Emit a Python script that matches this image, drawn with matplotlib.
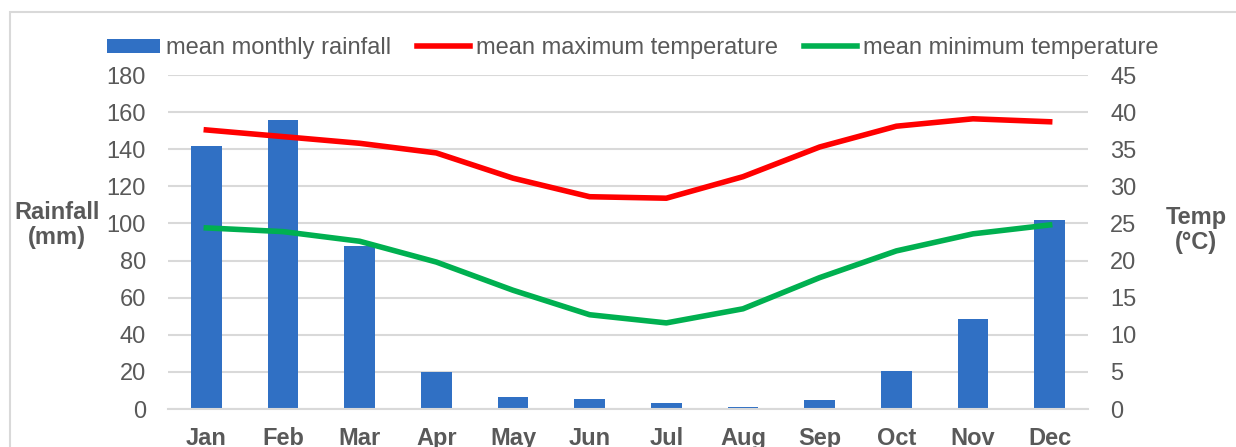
import matplotlib
matplotlib.use("Agg")
import matplotlib.pyplot as plt
from matplotlib.patches import Rectangle
import numpy as np

months = ["Jan", "Feb", "Mar", "Apr", "May", "Jun", "Jul", "Aug", "Sep", "Oct", "Nov", "Dec"]
rainfall = [142, 156, 88, 20, 6.5, 5.4, 3, 1, 5, 20.5, 48.5, 102]
max_temp = [37.6, 36.7, 35.8, 34.5, 31.1, 28.6, 28.4, 31.3, 35.3, 38.1, 39.1, 38.7]
min_temp = [24.4, 23.9, 22.6, 19.8, 16.0, 12.7, 11.6, 13.5, 17.7, 21.3, 23.6, 24.8]
rain_ticks = list(range(0, 181, 20))
temp_ticks = list(range(0, 46, 5))

plt.rcParams['font.family'] = ['Liberation Sans', 'DejaVu Sans']
grey = '#595959'
gridc = '#d9d9d9'
fs = 17

fig = plt.figure(figsize=(12.36, 4.47), dpi=100)
fig.patches.append(Rectangle((10/1236, -0.1), 1.2, 1 - 12/447 + 0.1, transform=fig.transFigure,
                             fill=False, edgecolor=gridc, linewidth=1.5))
ax = fig.add_axes([168/1236, 1 - 409/447, (1088 - 168)/1236, (409 - 75)/447])
x = np.arange(len(months))
bars = ax.bar(x, rainfall, width=0.4, color='#3070c4', zorder=2, label='mean monthly rainfall')
ax.set_xlim(-0.5, len(months) - 0.5)
ax.set_ylim(0, 180)
ax.set_yticks(rain_ticks)
ax.grid(axis='y', color=gridc, linewidth=1.5, zorder=0)
ax.set_axisbelow(True)
for s in ['top', 'right', 'left']:
    ax.spines[s].set_visible(False)
ax.spines['bottom'].set_color(gridc)
ax.spines['bottom'].set_linewidth(1.5)
ax.set_xticks(x)
ax.set_xticklabels(months, fontsize=fs, fontweight='bold', color=grey)
ax.tick_params(axis='both', length=0, colors=grey, labelsize=fs)
ax.tick_params(axis='x', pad=13)
ax.tick_params(axis='y', pad=16)

ax2 = ax.twinx()
l1, = ax2.plot(x, max_temp, color='#ff0000', linewidth=4, label='mean maximum temperature', zorder=3)
l2, = ax2.plot(x, min_temp, color='#00b050', linewidth=4, label='mean minimum temperature', zorder=3)
ax2.set_ylim(0, 45)
ax2.set_yticks(temp_ticks)
for s in ['top', 'right', 'left', 'bottom']:
    ax2.spines[s].set_visible(False)
ax2.tick_params(axis='y', length=0, colors=grey, labelsize=fs, pad=16)

fig.text(57/1236, 1 - 225/447, "Rainfall\n(mm)", ha='center', va='center', fontsize=fs,
         fontweight='bold', color=grey, linespacing=1.1)
fig.text(1196/1236, 1 - 230/447, "Temp\n(°C)", ha='center', va='center', fontsize=fs,
         fontweight='bold', color=grey, linespacing=1.1)

leg = fig.legend(handles=[bars, l1, l2], loc='center', bbox_to_anchor=(633/1236, 1 - 48/447),
                 ncol=3, frameon=False, fontsize=fs, handlelength=2.25, handleheight=0.55,
                 handletextpad=0.25, columnspacing=1.1, labelcolor=grey, borderpad=0)
fig.savefig("out.png", dpi=100)
